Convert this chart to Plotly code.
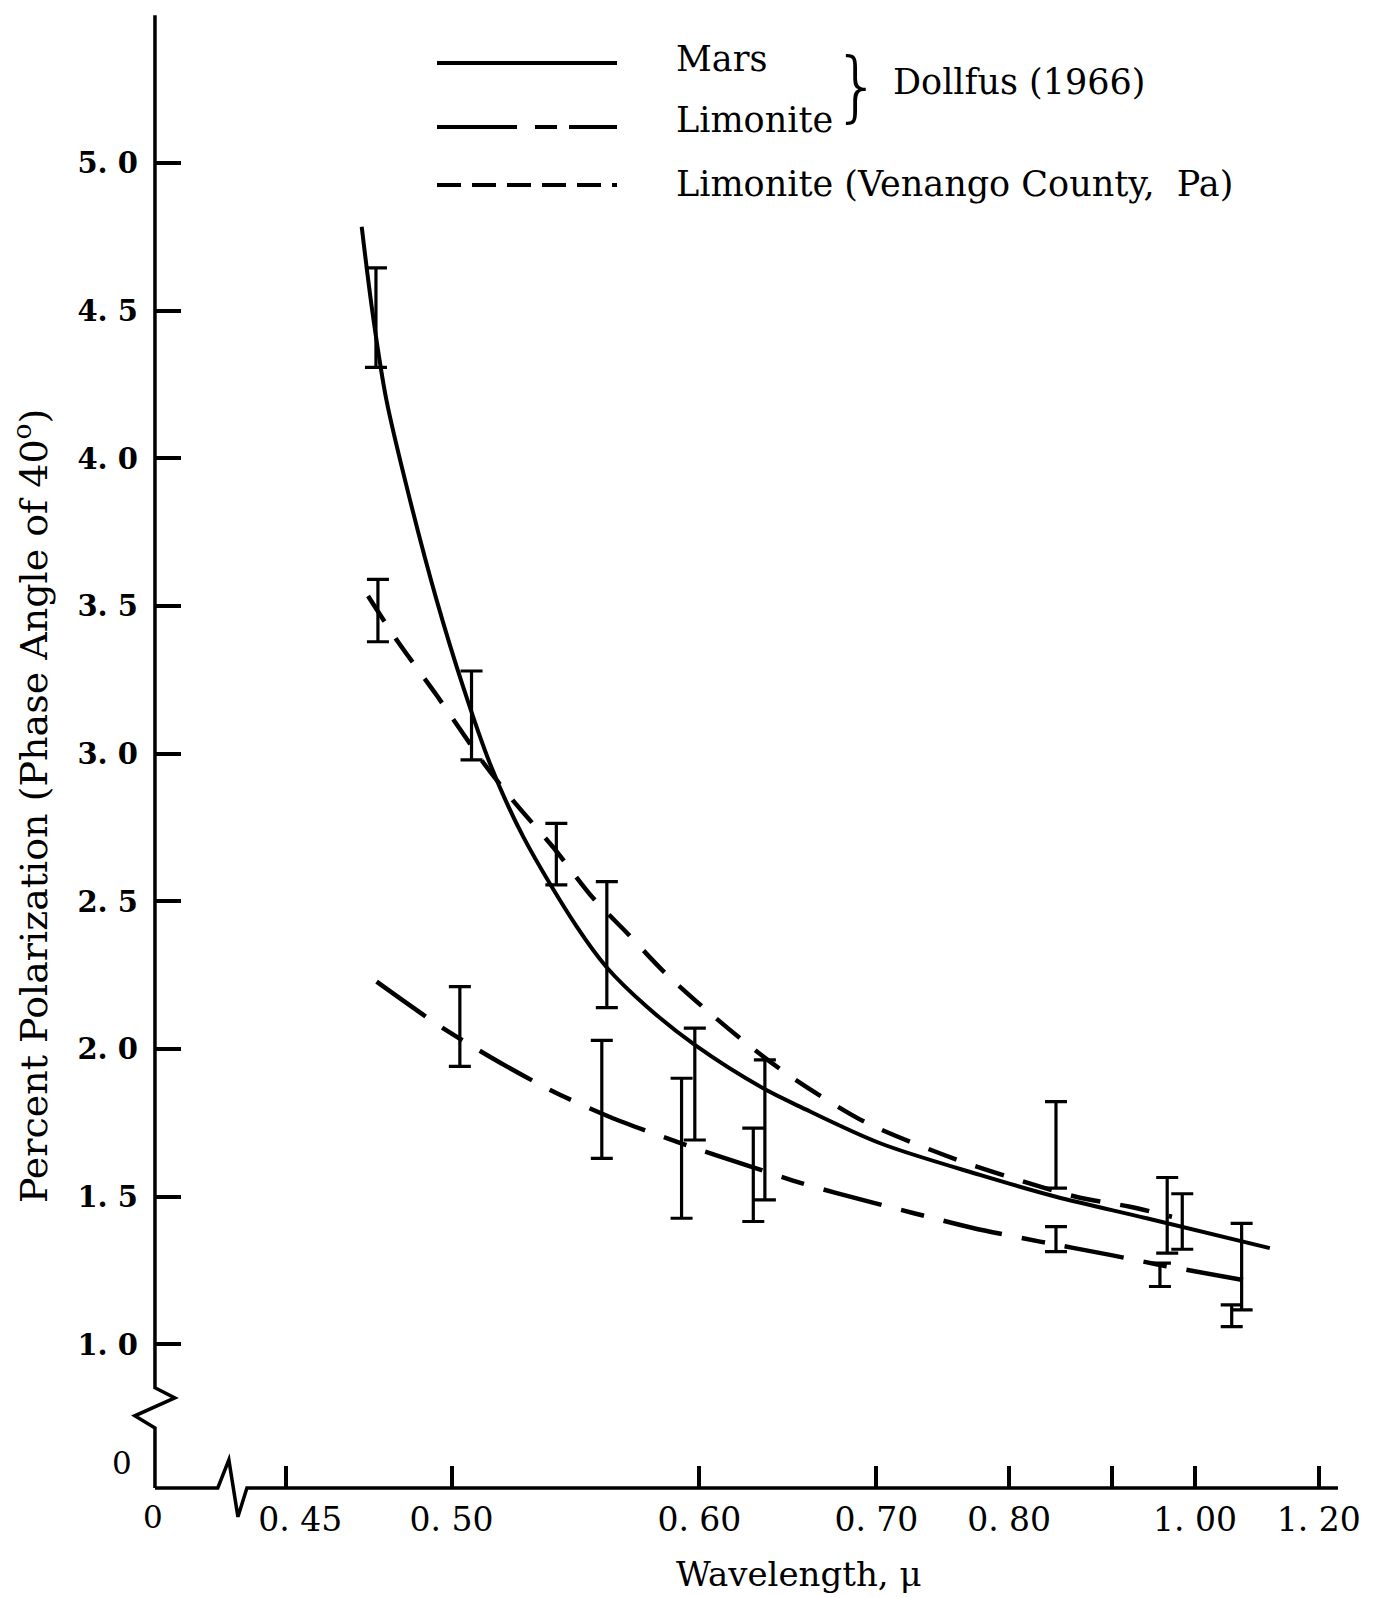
import plotly.graph_objects as go

# ---------------- data (wavelength in microns, percent polarization) ----------------
mars_wl = [0.4715, 0.4749, 0.4790, 0.4864, 0.4950, 0.5039, 0.5132, 0.5253, 0.5459,
           0.5582, 0.5755, 0.5978, 0.6326, 0.6530, 0.7025, 0.7756, 0.8425, 0.9390, 1.1120]
mars_pol = [4.784, 4.482, 4.198, 3.859, 3.521, 3.227, 2.968, 2.719, 2.415,
            2.277, 2.144, 2.014, 1.867, 1.805, 1.681, 1.574, 1.500, 1.427, 1.326]

dollfus_lim_wl = [0.4760, 0.4950, 0.5132, 0.5367, 0.5596, 0.5907, 0.6264, 0.6533, 0.6748,
                  0.7250, 0.7700, 0.8275, 0.8974, 0.9550, 1.0690]
dollfus_lim_pol = [2.228, 2.085, 1.974, 1.856, 1.770, 1.682, 1.601, 1.547, 1.512,
                   1.445, 1.394, 1.348, 1.303, 1.269, 1.218]

venango_wl = [0.4734, 0.4826, 0.4951, 0.5108, 0.5215, 0.5366, 0.5525, 0.5669, 0.5838,
              0.6051, 0.6266, 0.6490, 0.6925, 0.7575, 0.8077, 0.8630, 0.9196, 0.9700]
venango_pol = [3.534, 3.379, 3.197, 2.971, 2.842, 2.684, 2.512, 2.393, 2.258,
               2.122, 2.004, 1.902, 1.753, 1.625, 1.557, 1.499, 1.466, 1.432]

err_wl = [0.4758, 0.4764, 0.5068, 0.5379, 0.5583, 0.5028, 0.5562, 0.5978, 0.5915,
          0.6335, 0.6273, 0.8425, 0.8425, 0.9640, 0.9832, 0.9550, 1.0670, 1.0520]
err_low = [4.308, 3.379, 2.979, 2.556, 2.140, 1.941, 1.630, 1.692, 1.427,
           1.489, 1.416, 1.529, 1.314, 1.309, 1.322, 1.196, 1.117, 1.060]
err_high = [4.645, 3.590, 3.280, 2.764, 2.567, 2.211, 2.029, 2.071, 1.901,
            1.963, 1.732, 1.822, 1.399, 1.565, 1.510, 1.275, 1.410, 1.134]

x_tick_wl = [0.45, 0.50, 0.60, 0.70, 0.80, 0.90, 1.00, 1.20]
x_tick_text = ["\u00a0\u00a0\u20090. 45", "0. 50", "0. 60", "0. 70", "0. 80", "", "1. 00", "1. 20"]
y_tick_vals = [1.0, 1.5, 2.0, 2.5, 3.0, 3.5, 4.0, 4.5, 5.0]
y_tick_text = ["1. 0", "1. 5", "2. 0", "2. 5", "3. 0", "3. 5", "4. 0", "4. 5", "5. 0"]

# ---------------- layout constants ----------------
FIG_W, FIG_H = 1373, 1598
FONT = "DejaVu Serif"
X_RANGE = [2.473, 0.7605]      # axis in inverse wavelength (1/micron), reversed
X_DOMAIN = [0.0728, 1.0]
Y_RANGE = [0.270, 5.552]
Y_DOMAIN = [0.0238, 1.0]

AX_U0 = 2.399     # inverse wavelength where the vertical axis stands ("0")
AX_P0 = 0.514     # polarization level of the horizontal axis
AX_PTOP = 5.5
AX_UEND = 0.8076


def inv(w):
    return 1.0 / w


def paper_x_of_u(u):
    return X_DOMAIN[0] + (u - X_RANGE[0]) / (X_RANGE[1] - X_RANGE[0]) * (X_DOMAIN[1] - X_DOMAIN[0])


def paper_y_of_p(p):
    return Y_DOMAIN[0] + (p - Y_RANGE[0]) / (Y_RANGE[1] - Y_RANGE[0]) * (Y_DOMAIN[1] - Y_DOMAIN[0])


def pxx(x):
    return x / FIG_W


def pxy(y):
    return 1 - y / FIG_H


fig = go.Figure()

fig.add_trace(go.Scatter(x=[inv(w) for w in mars_wl], y=mars_pol, mode="lines",
                         line=dict(color="black", width=4, shape="spline", smoothing=0.9),
                         name="Mars", showlegend=False))
fig.add_trace(go.Scatter(x=[inv(w) for w in dollfus_lim_wl], y=dollfus_lim_pol, mode="lines",
                         line=dict(color="black", width=4.5, shape="spline", smoothing=0.7,
                                   dash="60px,20px,24px,20px"),
                         name="Limonite (Dollfus)", showlegend=False))
fig.add_trace(go.Scatter(x=[inv(w) for w in venango_wl], y=venango_pol, mode="lines",
                         line=dict(color="black", width=4.5, shape="spline", smoothing=0.8,
                                   dash="30px,20px"),
                         name="Limonite (Venango)", showlegend=False))

err_mid = [(lo + hi) / 2 for lo, hi in zip(err_low, err_high)]
err_half = [(hi - lo) / 2 for lo, hi in zip(err_low, err_high)]
fig.add_trace(go.Scatter(x=[inv(w) for w in err_wl], y=err_mid, mode="markers",
                         marker=dict(size=1, color="rgba(0,0,0,0)"),
                         error_y=dict(type="data", array=err_half, visible=True,
                                      color="black", thickness=3.2, width=11),
                         showlegend=False))

# ---------------- axes drawn with breaks ----------------
yaxis_path = (f"M {AX_U0},{AX_PTOP} L {AX_U0},0.853 L 2.3723,0.819 L 2.4261,0.758 "
              f"L {AX_U0},0.717 L {AX_U0},{AX_P0}")
xaxis_path = (f"M {AX_U0},{AX_P0} L 2.3145,{AX_P0} L 2.2996,0.609 L 2.2874,0.416 "
              f"L 2.2753,{AX_P0} L {AX_UEND},{AX_P0}")
shapes = [
    dict(type="path", xref="x", yref="y", path=yaxis_path, line=dict(color="black", width=3.5)),
    dict(type="path", xref="x", yref="y", path=xaxis_path, line=dict(color="black", width=3.5)),
]

# ---------------- legend (drawn manually) ----------------
LEG_X0, LEG_X1 = 437, 617
shapes += [
    dict(type="line", xref="paper", yref="paper", x0=pxx(LEG_X0), x1=pxx(LEG_X1),
         y0=pxy(63), y1=pxy(63), line=dict(color="black", width=4)),
    dict(type="line", xref="paper", yref="paper", x0=pxx(LEG_X0), x1=pxx(LEG_X1),
         y0=pxy(127), y1=pxy(127), line=dict(color="black", width=4, dash="80px,18px,22px,12px")),
    dict(type="line", xref="paper", yref="paper", x0=pxx(LEG_X0), x1=pxx(LEG_X1),
         y0=pxy(185), y1=pxy(185), line=dict(color="black", width=4, dash="24px,11px")),
]

leg = dict(family=FONT, size=35, color="black")
annotations = [
    dict(x=pxx(674), y=pxy(59), xref="paper", yref="paper", text="Mars", showarrow=False,
         xanchor="left", yanchor="middle", font=leg),
    dict(x=pxx(674), y=pxy(120), xref="paper", yref="paper", text="Limonite", showarrow=False,
         xanchor="left", yanchor="middle", font=leg),
    dict(x=pxx(674), y=pxy(184), xref="paper", yref="paper",
         text="Limonite (Venango County,  Pa)", showarrow=False,
         xanchor="left", yanchor="middle", font=leg),
    dict(x=pxx(891), y=pxy(82), xref="paper", yref="paper", text="Dollfus (1966)",
         showarrow=False, xanchor="left", yanchor="middle", font=leg),
    dict(x=pxx(857), y=pxy(85), xref="paper", yref="paper", text="}", showarrow=False,
         xanchor="center", yanchor="middle",
         font=dict(family="DejaVu Sans", size=76, color="black", weight=200)),
    # axis titles
    dict(x=pxx(799), y=pxy(1574), xref="paper", yref="paper", text="Wavelength, μ",
         showarrow=False, xanchor="center", yanchor="middle",
         font=dict(family=FONT, size=34, color="black")),
    dict(x=pxx(31), y=pxy(806), xref="paper", yref="paper",
         text="Percent Polarization (Phase Angle of 40<sup>o</sup>)", textangle=-90,
         showarrow=False, xanchor="center", yanchor="middle",
         font=dict(family=FONT, size=38, color="black")),
    # zero labels at the broken axes
    dict(x=pxx(122), y=pxy(1463), xref="paper", yref="paper", text="0", showarrow=False,
         xanchor="center", yanchor="middle", font=dict(family=FONT, size=31, color="black")),
    dict(x=pxx(153), y=pxy(1517), xref="paper", yref="paper", text="0", showarrow=False,
         xanchor="center", yanchor="middle", font=dict(family=FONT, size=31, color="black")),
]

fig.update_layout(
    width=FIG_W, height=FIG_H,
    margin=dict(l=0, r=0, t=0, b=0),
    paper_bgcolor="white", plot_bgcolor="white",
    showlegend=False,
    shapes=shapes, annotations=annotations,
    xaxis=dict(range=X_RANGE, domain=X_DOMAIN, anchor="free", position=paper_y_of_p(AX_P0),
               showline=False, showgrid=False, zeroline=False,
               tickmode="array", tickvals=[inv(w) for w in x_tick_wl], ticktext=x_tick_text,
               ticks="inside", ticklen=22, tickwidth=3.5, tickcolor="black",
               ticklabelstandoff=9,
               tickfont=dict(family=FONT, size=33, color="black")),
    yaxis=dict(range=Y_RANGE, domain=Y_DOMAIN, anchor="free", position=paper_x_of_u(AX_U0),
               showline=False, showgrid=False, zeroline=False,
               tickmode="array", tickvals=y_tick_vals, ticktext=y_tick_text,
               ticks="inside", ticklen=25, tickwidth=3.5, tickcolor="black",
               ticklabelstandoff=17,
               tickfont=dict(family=FONT, size=29, color="black", weight="bold")),
)

fig.write_html("out.html", config={"displayModeBar": False},
               post_script="document.body.style.margin='0px';")
